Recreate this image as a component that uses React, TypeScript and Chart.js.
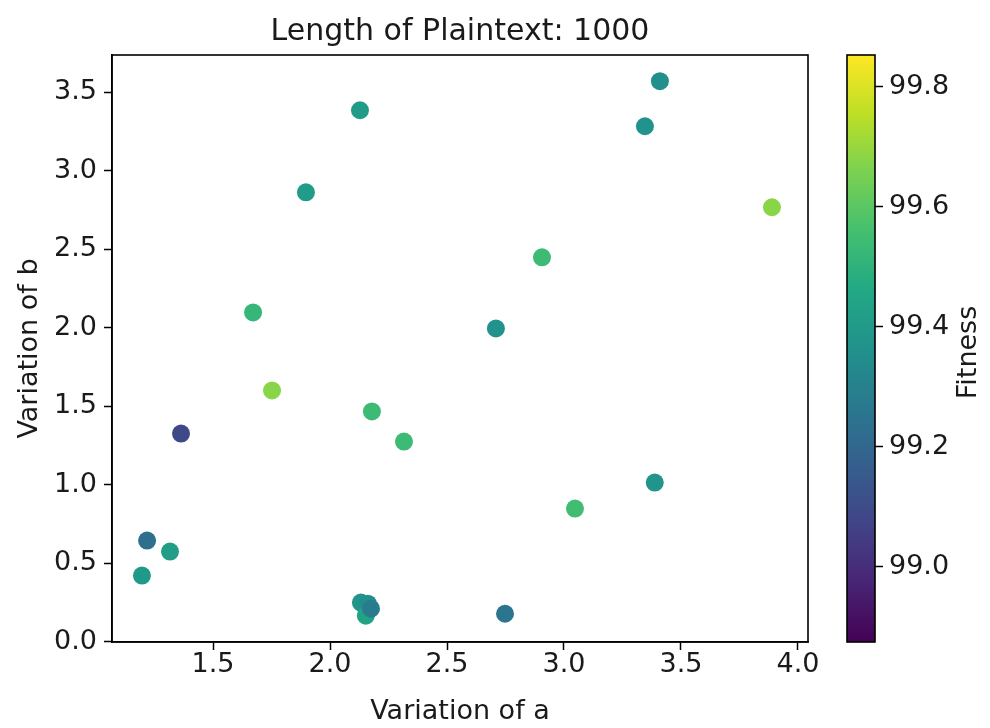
import React, { useEffect, useRef } from "react";
import { Chart, registerables } from "chart.js";

Chart.register(...registerables);

// ---- data ----
const xValues = [3.41, 2.128, 3.346, 1.897, 3.889, 2.906, 1.671, 2.709, 1.752, 2.179, 1.363, 2.316, 3.388, 3.047, 1.218, 1.316, 1.196, 2.132, 2.162, 2.153, 2.175, 2.748];
const yValues = [3.57, 3.385, 3.283, 2.862, 2.767, 2.448, 2.097, 1.995, 1.6, 1.466, 1.325, 1.274, 1.013, 0.847, 0.643, 0.573, 0.42, 0.248, 0.241, 0.165, 0.209, 0.177];
const fitnessValues = [99.36, 99.41, 99.37, 99.41, 99.68, 99.54, 99.52, 99.37, 99.68, 99.54, 99.09, 99.54, 99.38, 99.55, 99.23, 99.42, 99.4, 99.38, 99.36, 99.44, 99.28, 99.26];

const xTicks = [1.5, 2.0, 2.5, 3.0, 3.5, 4.0];
const yTicks = [0.0, 0.5, 1.0, 1.5, 2.0, 2.5, 3.0, 3.5];
const cbTicks = [99.0, 99.2, 99.4, 99.6, 99.8];

const xRange = [1.068, 4.043];
const yRange = [-0.003, 3.737];
const fitnessRange = [98.875, 99.853];

const titleText = "Length of Plaintext: 1000";
const xLabel = "Variation of a";
const yLabel = "Variation of b";
const cbLabel = "Fitness";

// viridis colormap stops (0, 0.1, ..., 1)
const viridisStops = ["#440154", "#482475", "#414487", "#355f8d", "#2a788e", "#21918c", "#22a884", "#44bf70", "#7ad151", "#bddf26", "#fde725"];

function hexToRgb(h: string) {
  return [parseInt(h.slice(1, 3), 16), parseInt(h.slice(3, 5), 16), parseInt(h.slice(5, 7), 16)];
}

function viridis(t: number) {
  const c = Math.max(0, Math.min(1, t)) * (viridisStops.length - 1);
  const i = Math.min(Math.floor(c), viridisStops.length - 2);
  const f = c - i;
  const a = hexToRgb(viridisStops[i]);
  const b = hexToRgb(viridisStops[i + 1]);
  const r = a.map((v, k) => Math.round(v + (b[k] - v) * f));
  return `rgb(${r[0]},${r[1]},${r[2]})`;
}

const colorFor = (v: number) => viridis((v - fitnessRange[0]) / (fitnessRange[1] - fitnessRange[0]));

const FONT = "'DejaVu Sans', sans-serif";
const TICK_SIZE = 27;
const LABEL_SIZE = 27;
const TITLE_SIZE = 30;
const TEXT_COLOR = "#1a1a1a";

export default function App() {
  const mainRef = useRef<HTMLCanvasElement>(null);
  const cbRef = useRef<HTMLCanvasElement>(null);

  useEffect(() => {
    const setTicks = (vals: number[]) => (scale: any) => {
      scale.ticks = vals.map((v) => ({ value: v }));
    };

    const framePlugin = {
      id: "frame",
      afterDraw(chart: any) {
        const { ctx, chartArea: a } = chart;
        ctx.save();
        ctx.strokeStyle = "#000";
        ctx.lineWidth = 1.6;
        ctx.strokeRect(a.left, a.top, a.right - a.left, a.bottom - a.top);
        ctx.restore();
      },
    };

    const titlePlugin = {
      id: "mplTitle",
      afterDraw(chart: any) {
        const { ctx, chartArea: a } = chart;
        ctx.save();
        ctx.font = `${TITLE_SIZE}px ${FONT}`;
        ctx.fillStyle = TEXT_COLOR;
        ctx.textAlign = "center";
        ctx.textBaseline = "alphabetic";
        ctx.fillText(titleText, (a.left + a.right) / 2, a.top - 15);
        ctx.restore();
      },
    };

    const main = new Chart(mainRef.current as HTMLCanvasElement, {
      type: "scatter",
      data: {
        datasets: [
          {
            data: xValues.map((x, i) => ({ x, y: yValues[i] })),
            backgroundColor: fitnessValues.map(colorFor),
            borderWidth: 0,
            pointRadius: 9,
            pointHoverRadius: 9,
          },
        ],
      },
      options: {
        responsive: false,
        animation: false,
        events: [],
        layout: { padding: { left: 0, right: 22, top: 55, bottom: 0 } },
        plugins: {
          legend: { display: false },
          tooltip: { enabled: false },
          title: { display: false },
        },
        scales: {
          x: {
            type: "linear",
            min: xRange[0],
            max: xRange[1],
            afterFit: (s: any) => {
              s.height = 86;
            },
            afterBuildTicks: setTicks(xTicks),
            grid: { drawOnChartArea: false, drawTicks: true, tickLength: 8, tickColor: "#000", tickWidth: 1.5 },
            border: { display: true, color: "#000", width: 1.6 },
            ticks: {
              font: { family: FONT, size: TICK_SIZE },
              color: TEXT_COLOR,
              padding: -1,
              maxRotation: 0,
              autoSkip: false,
              callback: (v: any) => Number(v).toFixed(1),
            },
            title: {
              display: true,
              text: xLabel,
              font: { family: FONT, size: LABEL_SIZE },
              color: TEXT_COLOR,
              padding: { top: 0, bottom: 0 },
            },
          },
          y: {
            type: "linear",
            min: yRange[0],
            max: yRange[1],
            afterFit: (s: any) => {
              s.width = 112;
            },
            afterBuildTicks: setTicks(yTicks),
            grid: { drawOnChartArea: false, drawTicks: true, tickLength: 8, tickColor: "#000", tickWidth: 1.5 },
            border: { display: true, color: "#000", width: 1.6 },
            ticks: {
              font: { family: FONT, size: TICK_SIZE },
              color: TEXT_COLOR,
              padding: 7,
              autoSkip: false,
              callback: (v: any) => Number(v).toFixed(1),
            },
            title: {
              display: true,
              text: yLabel,
              font: { family: FONT, size: LABEL_SIZE },
              color: TEXT_COLOR,
              padding: { top: 14, bottom: 0 },
            },
          },
        },
      },
      plugins: [framePlugin, titlePlugin],
    } as any);

    const gradientPlugin = {
      id: "cbGradient",
      beforeDraw(chart: any) {
        const { ctx, chartArea: a } = chart;
        const g = ctx.createLinearGradient(0, a.bottom, 0, a.top);
        viridisStops.forEach((c, i) => g.addColorStop(i / (viridisStops.length - 1), c));
        ctx.save();
        ctx.fillStyle = g;
        ctx.fillRect(a.left, a.top, a.right - a.left, a.bottom - a.top);
        ctx.restore();
      },
      afterDraw(chart: any) {
        const { ctx, chartArea: a } = chart;
        ctx.save();
        ctx.strokeStyle = "#000";
        ctx.lineWidth = 1.6;
        ctx.strokeRect(a.left, a.top, a.right - a.left, a.bottom - a.top);
        ctx.font = `${LABEL_SIZE}px ${FONT}`;
        ctx.fillStyle = TEXT_COLOR;
        ctx.textAlign = "center";
        ctx.textBaseline = "middle";
        ctx.translate(139, (a.top + a.bottom) / 2 + 4);
        ctx.rotate(-Math.PI / 2);
        ctx.fillText(cbLabel, 0, 0);
        ctx.restore();
      },
    };

    const cb = new Chart(cbRef.current as HTMLCanvasElement, {
      type: "scatter",
      data: { datasets: [] },
      options: {
        responsive: false,
        animation: false,
        events: [],
        layout: { padding: { left: 17, right: 0, top: 55, bottom: 86 } },
        plugins: { legend: { display: false }, tooltip: { enabled: false } },
        scales: {
          x: { display: false, min: 0, max: 1 },
          y: {
            type: "linear",
            position: "right",
            min: fitnessRange[0],
            max: fitnessRange[1],
            afterFit: (s: any) => {
              s.width = 115;
            },
            afterBuildTicks: setTicks(cbTicks),
            grid: { drawOnChartArea: false, drawTicks: true, tickLength: 8, tickColor: "#000", tickWidth: 1.5 },
            border: { display: false },
            ticks: {
              font: { family: FONT, size: TICK_SIZE },
              color: TEXT_COLOR,
              padding: 6,
              autoSkip: false,
              callback: (v: any) => Number(v).toFixed(1),
            },
          },
        },
      },
      plugins: [gradientPlugin],
    } as any);

    return () => {
      main.destroy();
      cb.destroy();
    };
  }, []);

  return (
    <div style={{ position: "fixed", left: 0, top: 0, width: 990, height: 728, background: "#fff" }}>
      <canvas ref={mainRef} width={830} height={728} style={{ position: "absolute", left: 0, top: 0, width: 830, height: 728 }} />
      <canvas ref={cbRef} width={160} height={728} style={{ position: "absolute", left: 830, top: 0, width: 160, height: 728 }} />
    </div>
  );
}
